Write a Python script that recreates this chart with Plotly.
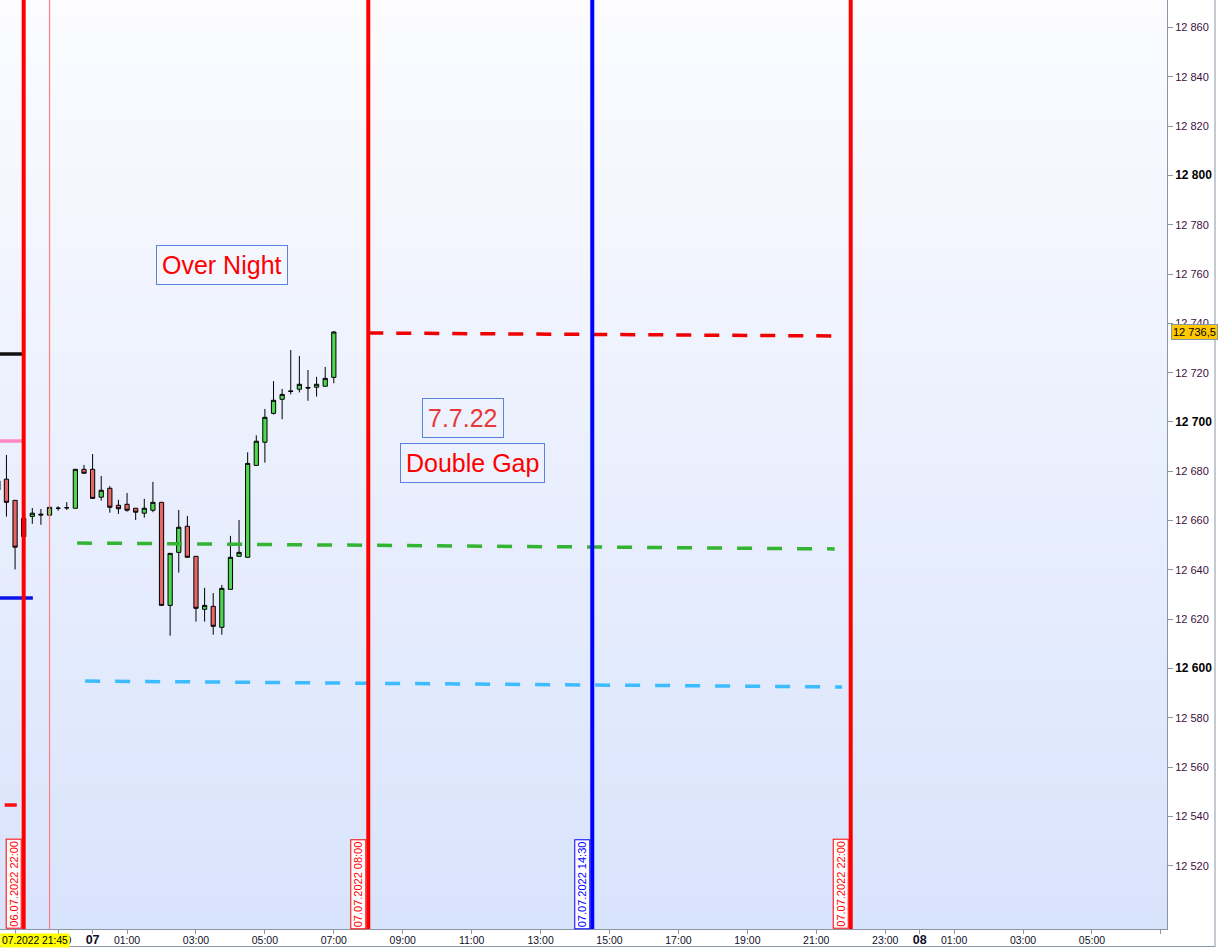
import plotly.graph_objects as go

# ---------------- data ----------------
candle_times = [
    "2022-07-06 21:15", "2022-07-06 21:30", "2022-07-06 21:45", "2022-07-06 22:00",
    "2022-07-06 22:15", "2022-07-06 22:30", "2022-07-06 22:45", "2022-07-06 23:00",
    "2022-07-06 23:15", "2022-07-06 23:30", "2022-07-06 23:45", "2022-07-07 00:00",
    "2022-07-07 00:15", "2022-07-07 00:30", "2022-07-07 00:45", "2022-07-07 01:00",
    "2022-07-07 01:15", "2022-07-07 01:30", "2022-07-07 01:45", "2022-07-07 02:00",
    "2022-07-07 02:15", "2022-07-07 02:30", "2022-07-07 02:45", "2022-07-07 03:00",
    "2022-07-07 03:15", "2022-07-07 03:30", "2022-07-07 03:45", "2022-07-07 04:00",
    "2022-07-07 04:15", "2022-07-07 04:30", "2022-07-07 04:45", "2022-07-07 05:00",
    "2022-07-07 05:15", "2022-07-07 05:30", "2022-07-07 05:45", "2022-07-07 06:00",
    "2022-07-07 06:15", "2022-07-07 06:30", "2022-07-07 06:45", "2022-07-07 07:00",
]
opens = [12672.4, 12676.8, 12668.2, 12653.5, 12661.7, 12662.6, 12662.2, 12665.0,
         12665.2, 12665.0, 12680.8, 12680.8, 12669.5, 12673.1, 12666.2, 12666.6,
         12665.0, 12663.0, 12664.2, 12667.4, 12625.6, 12647.1, 12657.7, 12645.5,
         12624.0, 12625.2, 12616.7, 12632.1, 12645.5, 12645.1, 12682.4, 12691.8,
         12703.5, 12709.2, 12712.6, 12713.3, 12714.0, 12714.1, 12714.5, 12718.1]
highs = [12677.5, 12686.6, 12668.2, 12661.0, 12665.1, 12664.7, 12666.2, 12665.8,
         12667.5, 12680.8, 12682.6, 12687.0, 12678.1, 12674.0, 12668.4, 12671.2,
         12665.0, 12668.8, 12675.7, 12667.4, 12646.7, 12664.3, 12661.9, 12645.5,
         12632.7, 12630.6, 12633.9, 12653.8, 12660.2, 12687.7, 12694.6, 12705.3,
         12716.6, 12713.4, 12729.2, 12726.8, 12721.1, 12718.3, 12722.3, 12736.9]
lows = [12671.0, 12661.6, 12640.2, 12653.0, 12658.7, 12658.3, 12658.5, 12664.0,
        12664.3, 12665.0, 12679.2, 12669.0, 12668.1, 12663.2, 12662.7, 12663.6,
        12660.2, 12661.2, 12663.4, 12625.6, 12613.3, 12638.9, 12645.1, 12619.0,
        12619.0, 12613.7, 12613.7, 12632.1, 12645.5, 12645.1, 12682.4, 12683.5,
        12703.0, 12701.1, 12711.2, 12712.0, 12708.6, 12710.3, 12714.5, 12715.7]
closes = [12676.1, 12667.4, 12649.2, 12660.9, 12663.0, 12662.3, 12665.4, 12665.0,
          12665.2, 12680.8, 12679.2, 12669.0, 12672.3, 12665.4, 12664.8, 12664.2,
          12663.4, 12665.0, 12667.4, 12625.6, 12646.7, 12657.3, 12645.1, 12624.4,
          12625.6, 12617.1, 12632.5, 12645.1, 12647.1, 12683.2, 12692.2, 12701.9,
          12708.8, 12711.2, 12712.4, 12715.3, 12713.8, 12715.3, 12717.7, 12736.5]

last_price = 12736.5
last_price_text = "12 736,5"

# dashed projection levels
red_level_x = ["2022-07-07 08:00", "2022-07-07 21:32"]
red_level_y = [12736.1, 12734.9]
green_level_x = ["2022-07-06 23:33", "2022-07-07 21:32"]
green_level_y = [12650.9, 12648.5]
cyan_level_x = ["2022-07-06 23:47", "2022-07-07 21:45"]
cyan_level_y = [12594.9, 12592.5]

# short previous-day levels at the left edge
black_level_x = ["2022-07-06 21:00", "2022-07-06 22:00"]
black_level_y = [12727.6, 12727.6]
pink_level_x = ["2022-07-06 21:00", "2022-07-06 22:00"]
pink_level_y = [12692.3, 12692.3]
blue_level_x = ["2022-07-06 21:00", "2022-07-06 22:16"]
blue_level_y = [12628.6, 12628.6]
redshort_level_x = ["2022-07-06 21:27", "2022-07-06 21:48"]
redshort_level_y = [12544.6, 12544.6]

# session vertical lines
vline_times = ["2022-07-06 22:00", "2022-07-07 08:00", "2022-07-07 14:30", "2022-07-07 22:00"]
vline_labels = ["06.07.2022 22:00", "07.07.2022 08:00", "07.07.2022 14:30", "07.07.2022 22:00"]
vline_colors = ["#ff0000", "#ff0000", "#0000ff", "#ff0000"]
thin_vline_time = "2022-07-06 22:45"

# axes
y_tickvals = [12520, 12540, 12560, 12580, 12600, 12620, 12640, 12660, 12680,
              12700, 12720, 12740, 12760, 12780, 12800, 12820, 12840, 12860]
y_bold = [12600, 12700, 12800]

x_tickvals = ["2022-07-06 21:45", "2022-07-06 23:00", "2022-07-07 00:00",
              "2022-07-07 01:00", "2022-07-07 03:00", "2022-07-07 05:00",
              "2022-07-07 07:00", "2022-07-07 09:00", "2022-07-07 11:00",
              "2022-07-07 13:00", "2022-07-07 15:00", "2022-07-07 17:00",
              "2022-07-07 19:00", "2022-07-07 21:00", "2022-07-07 23:00",
              "2022-07-08 00:00", "2022-07-08 01:00", "2022-07-08 03:00",
              "2022-07-08 05:00", "2022-07-08 07:00"]
x_ticktext = ["", "23:00", "07", "01:00", "03:00", "05:00", "07:00", "09:00",
              "11:00", "13:00", "15:00", "17:00", "19:00", "21:00", "23:00",
              "08", "01:00", "03:00", "05:00", ""]
cursor_label = "07.2022 21:45"

# ---------------- figure ----------------
FONT = "Liberation Sans, Arial, sans-serif"
W, H = 1218, 948
ML, MR, MT, MB = 0, 51, 0, 19

fig = go.Figure()

def level(xs, ys, color, width=3.5, dash="solid"):
    fig.add_trace(go.Scatter(x=xs, y=ys, mode="lines",
                             line=dict(color=color, width=width, dash=dash),
                             hoverinfo="skip", showlegend=False))

level(black_level_x, black_level_y, "#111111")
level(pink_level_x, pink_level_y, "#ff88c4")
level(blue_level_x, blue_level_y, "#0a14e6")
level(redshort_level_x, redshort_level_y, "#ff1010")
level(red_level_x, red_level_y, "#f00000", 3.5, "15px,13px")
level(green_level_x, green_level_y, "#33b433", 3.5, "15px,15px")
level(cyan_level_x, cyan_level_y, "#3cbcff", 3.5, "15px,15px")

fig.add_trace(go.Candlestick(
    x=candle_times, open=opens, high=highs, low=lows, close=closes,
    increasing=dict(line=dict(color="#000000", width=1), fillcolor="#4fd84f"),
    decreasing=dict(line=dict(color="#000000", width=1), fillcolor="#e66666"),
    whiskerwidth=0, hoverinfo="skip", showlegend=False,
))

shapes = []
# vertical gradient background
N = 60
top = (252, 252, 255)
bot = (216, 227, 252)
for i in range(N):
    t = (i + 0.5) / N
    c = tuple(round(top[k] + (bot[k] - top[k]) * t) for k in range(3))
    shapes.append(dict(type="rect", xref="paper", yref="paper",
                       x0=0, x1=1, y0=1 - (i + 1) / N, y1=1 - i / N + 0.001,
                       fillcolor="rgb(%d,%d,%d)" % c, line=dict(width=0),
                       layer="below"))
shapes.append(dict(type="line", xref="x", yref="paper", x0=thin_vline_time,
                   x1=thin_vline_time, y0=0, y1=1,
                   line=dict(color="#ff7f7f", width=1.2), layer="above"))
for t, col in zip(vline_times, vline_colors):
    shapes.append(dict(type="line", xref="x", yref="paper", x0=t, x1=t,
                       y0=0, y1=1, line=dict(color=col, width=4), layer="above"))
# outer frame (right + bottom)
shapes.append(dict(type="line", xref="paper", yref="paper",
                   x0=(W - 3) / (W - MR), x1=(W - 3) / (W - MR),
                   y0=-(MB - 1) / (H - MB), y1=1,
                   line=dict(color="#8a96a6", width=1)))
shapes.append(dict(type="line", xref="paper", yref="paper",
                   x0=0, x1=(W - 3) / (W - MR),
                   y0=-(MB - 1.5) / (H - MB), y1=-(MB - 1.5) / (H - MB),
                   line=dict(color="#8a96a6", width=1)))

annotations = []
for t, lab, col in zip(vline_times, vline_labels, vline_colors):
    annotations.append(dict(x=t, xref="x", y=0, yref="paper", text=lab,
                            textangle=-90, xanchor="right", yanchor="bottom",
                            xshift=-2, showarrow=False,
                            font=dict(family=FONT, size=11, color=col),
                            bgcolor="#ffffff", bordercolor=col, borderwidth=1,
                            borderpad=1))

box_border = "#5b82dc"
annotations.append(dict(x="2022-07-07 03:45:18", y=12763.7, text="Over Night",
                        showarrow=False, font=dict(family=FONT, size=25, color="#ff0000"),
                        bgcolor="rgba(246,248,255,0.6)", bordercolor=box_border,
                        borderwidth=1, borderpad=5))
annotations.append(dict(x="2022-07-07 10:45", y=12701.8, text="7.7.22",
                        showarrow=False, font=dict(family=FONT, size=25, color="#e8383a"),
                        bgcolor="rgba(240,244,255,0.6)", bordercolor=box_border,
                        borderwidth=1, borderpad=5))
annotations.append(dict(x="2022-07-07 11:00:36", y=12683.4, text="Double Gap",
                        showarrow=False, font=dict(family=FONT, size=25, color="#ff0000"),
                        bgcolor="rgba(240,244,255,0.6)", bordercolor=box_border,
                        borderwidth=1, borderpad=5))
# last price tag on the price axis
annotations.append(dict(x=1, xref="paper", xshift=4, xanchor="left",
                        y=last_price, yref="y", yanchor="middle",
                        text=last_price_text, showarrow=False,
                        font=dict(family=FONT, size=11, color="#000000"),
                        bgcolor="#ffc800", bordercolor="#8a96a6", borderwidth=1,
                        borderpad=1))
# crosshair time tag
annotations.append(dict(x=0, xref="paper", xanchor="left",
                        y=-11 / (H - MB), yref="paper", yanchor="middle",
                        text=cursor_label, showarrow=False,
                        font=dict(family=FONT, size=10.3, color="#000000"),
                        bgcolor="#ffff00", borderpad=1))

y_ticktext = []
for v in y_tickvals:
    s = "{:,}".format(v).replace(",", " ")
    if v in y_bold:
        y_ticktext.append("<b><span style='color:#000000;font-size:12px'>%s</span></b>" % s)
    else:
        y_ticktext.append(s)

x_ticktext_fmt = ["<b><span style='font-size:12.5px'>%s</span></b>" % t if len(t) == 2 else t
                  for t in x_ticktext]

fig.update_layout(
    width=W, height=H,
    margin=dict(l=ML, r=MR, t=MT, b=MB, pad=0, autoexpand=False),
    paper_bgcolor="#ffffff",
    plot_bgcolor="rgb(234,240,254)",
    showlegend=False,
    hovermode=False,
    shapes=shapes,
    annotations=annotations,
    xaxis=dict(
        type="date",
        range=["2022-07-06 21:18:46", "2022-07-08 07:10:41"],
        rangeslider=dict(visible=False),
        automargin=False,
        showgrid=False, zeroline=False,
        showline=True, linecolor="#8a96a6", linewidth=1,
        ticks="outside", ticklen=4, tickcolor="#8a96a6",
        ticklabelstandoff=-3,
        tickmode="array", tickvals=x_tickvals, ticktext=x_ticktext_fmt,
        tickfont=dict(family=FONT, size=10.5, color="#101028"),
        fixedrange=True,
    ),
    yaxis=dict(
        side="right",
        range=[12494.3, 12871.2],
        automargin=False,
        showgrid=False, zeroline=False,
        showline=True, linecolor="#8a96a6", linewidth=1,
        ticks="outside", ticklen=5, tickcolor="#8a96a6",
        tickmode="array", tickvals=y_tickvals, ticktext=y_ticktext,
        tickfont=dict(family=FONT, size=11, color="#401040"),
        fixedrange=True,
    ),
)

fig.write_html("out.html", config={"displayModeBar": False},
               post_script="document.body.style.margin='0px';")
